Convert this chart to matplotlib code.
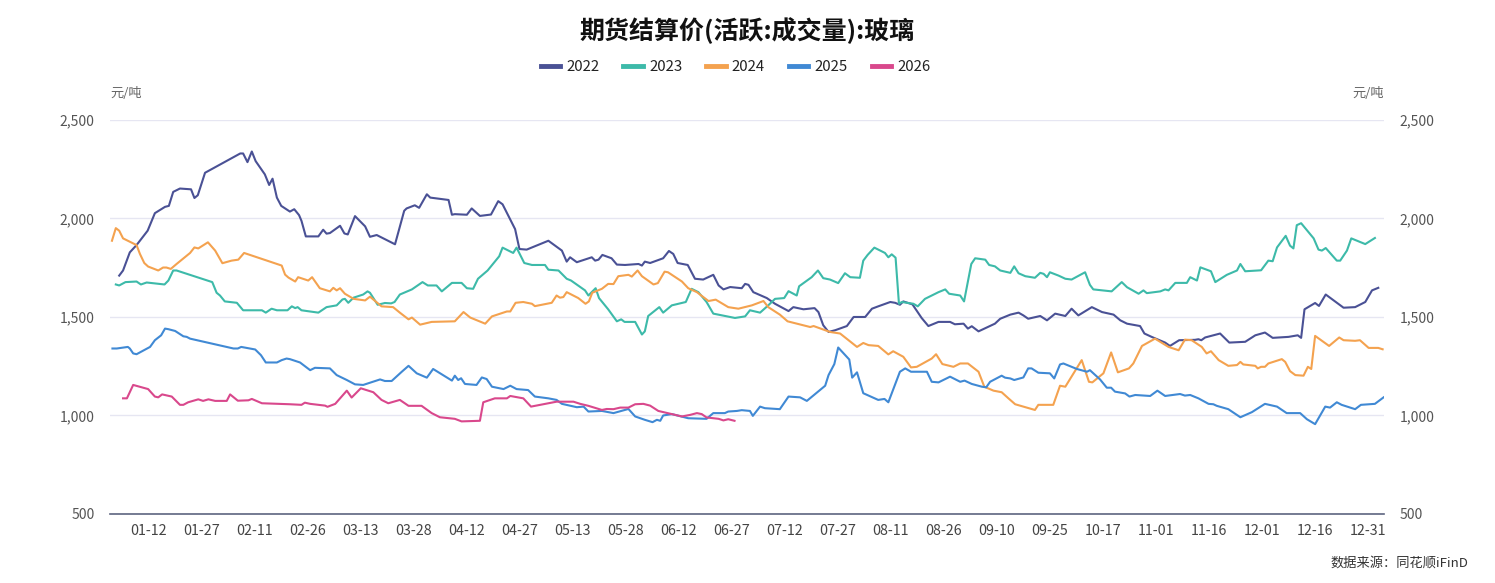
import matplotlib.pyplot as plt

plt.rcParams['font.family'] = ['Noto Sans CJK SC', 'DejaVu Sans']

# x = trading-day position on the shared category axis, y = settlement price (元/吨)
x_2022 = [1.5, 2.3, 3.7, 5.1, 7.4, 8.9, 11.0, 11.8, 12.7, 14.1, 16.4, 17.1, 17.8, 19.3,
          26.6, 27.2, 28.1, 29.0, 29.8, 31.7, 32.6, 33.3, 34.2, 35.1, 36.9, 37.8, 38.8,
          39.3, 40.2, 42.8, 43.8, 44.5, 45.2, 47.3, 48.2, 48.9, 50.4, 52.5, 53.5, 54.9,
          58.7, 60.6, 61.1, 62.8, 63.7, 65.3, 66.0, 69.8, 70.5, 71.1, 73.6, 74.6, 76.3,
          78.6, 80.1, 81.0, 83.6, 84.5, 86.0, 90.5, 93.3, 94.3, 95.0, 96.4, 99.5, 100.2,
          100.9, 101.7, 103.6, 104.7, 106.4, 109.2, 109.9, 110.5, 111.6, 114.3, 115.5,
          116.4, 117.3, 119.4, 120.9, 122.6, 124.7, 125.8, 126.8, 128.2, 130.6, 131.3,
          132.0, 133.0, 135.8, 137.5, 140.3, 141.3, 143.4, 145.7, 146.5, 147.5, 148.6,
          150.0, 152.4, 153.8, 156.2, 157.6, 158.9, 161.4, 162.4, 163.4, 164.1, 166.0,
          167.9, 169.3, 171.4, 173.8, 174.8, 176.6, 177.5, 178.3, 179.7, 183.1, 184.2,
          186.3, 188.0, 189.0, 190.0, 192.5, 193.9, 195.6, 197.7, 199.0, 200.4, 203.2,
          205.3, 207.7, 209.1, 210.5, 213.2, 214.1, 215.6, 218.4, 219.4, 221.3, 224.6,
          225.3, 225.9, 226.7, 229.8, 231.7, 235.0, 237.1, 239.1, 240.7, 244.0, 245.9,
          246.6, 247.3, 249.5, 250.3, 251.7, 255.4, 257.8, 259.9, 261.3, 262.6]
v_2022 = [1710, 1736, 1828, 1865, 1938, 2027, 2059, 2064, 2135, 2152, 2148, 2104, 2118, 2232,
          2330, 2330, 2286, 2340, 2291, 2224, 2170, 2202, 2106, 2064, 2035, 2047, 2017,
          1988, 1909, 1909, 1943, 1923, 1926, 1963, 1924, 1919, 2012, 1960, 1907, 1916,
          1869, 2039, 2051, 2067, 2054, 2123, 2106, 2094, 2019, 2022, 2019, 2051, 2013,
          2020, 2088, 2072, 1946, 1845, 1842, 1887, 1837, 1781, 1803, 1778, 1803, 1786,
          1791, 1815, 1798, 1766, 1764, 1769, 1761, 1781, 1774, 1798, 1835,
          1820, 1774, 1764, 1694, 1690, 1714, 1660, 1640, 1652, 1646, 1668,
          1663, 1626, 1596, 1567, 1530, 1550, 1539, 1545, 1525, 1458, 1424,
          1433, 1454, 1500, 1500, 1542, 1554, 1576, 1572, 1562, 1579, 1564,
          1495, 1454, 1475, 1475, 1463, 1466, 1441, 1453, 1427, 1466, 1491,
          1512, 1522, 1508, 1491, 1505, 1483, 1517, 1505, 1542, 1508, 1550,
          1525, 1512, 1483, 1466, 1454, 1416, 1399, 1370, 1353, 1382, 1384,
          1387, 1382, 1396, 1416, 1370, 1374, 1407, 1421, 1394, 1399, 1407,
          1394, 1539, 1571, 1556, 1614, 1547, 1550, 1576, 1635, 1648]

x_2023 = [0.8, 1.5, 2.8, 5.1, 6.0, 7.2, 10.9, 11.7, 12.7, 13.4, 20.8, 21.7, 22.4, 23.4,
          25.9, 27.2, 31.1, 31.9, 33.1, 34.2, 36.4, 37.3, 38.0, 38.5, 39.3, 42.8, 44.5,
          46.6, 47.8, 48.3, 49.0, 50.1, 52.1, 53.0, 53.5, 55.1, 56.6, 57.9, 58.6, 59.7,
          62.2, 64.4, 65.5, 67.3, 68.4, 70.5, 72.5, 73.6, 74.9, 75.9, 77.9, 80.3, 81.0,
          83.2, 83.9, 85.5, 87.1, 89.8, 90.5, 92.6, 94.3, 95.2, 98.1, 98.8, 100.3, 101.0,
          102.9, 104.7, 105.6, 106.3, 108.5, 109.9, 110.5, 111.2, 113.5, 114.3, 116.1,
          117.5, 119.0, 120.2, 121.6, 123.3, 124.7, 129.2, 131.3, 132.3, 134.4, 136.1,
          137.5, 139.4, 140.3, 142.0, 142.5, 145.1, 146.4, 147.5, 148.9, 150.6, 152.0,
          153.1, 155.1, 155.8, 156.7, 158.1, 160.3, 161.0, 161.7, 162.5, 163.2, 163.8,
          166.2, 167.1, 168.6, 171.4, 172.8, 173.6, 175.9, 176.7, 178.2, 179.0, 181.1,
          181.9, 183.1, 184.2, 186.3, 187.1, 188.0, 189.4, 191.4, 192.5, 193.2, 193.9,
          194.5, 196.3, 197.7, 199.0, 201.8, 202.8, 203.5, 207.3, 209.4, 210.5, 212.9,
          213.9, 214.6, 217.4, 218.4, 219.1, 220.5, 222.9, 223.6, 225.0, 225.7, 227.9,
          228.8, 231.2, 233.3, 234.0, 235.0, 238.3, 239.8, 240.7, 241.6, 243.4, 244.3,
          245.0, 245.7, 246.6, 249.2, 250.2, 250.9, 251.7, 254.0, 254.7, 256.1, 257.0,
          259.9, 261.9]
v_2023 = [1665, 1660, 1677, 1680, 1665, 1675, 1665, 1685, 1736, 1736, 1677, 1623, 1609, 1579,
          1572, 1534, 1534, 1522, 1542, 1534, 1534, 1554, 1545, 1550, 1534, 1522, 1550,
          1559, 1589, 1592, 1572, 1598, 1614, 1630, 1623, 1562, 1571, 1569, 1576, 1614,
          1640, 1677, 1660, 1660, 1630, 1673, 1673, 1646, 1643, 1694, 1736, 1808, 1852,
          1825, 1852, 1774, 1764, 1764, 1740, 1736, 1694, 1685, 1635, 1609, 1646, 1596,
          1539, 1478, 1488, 1475, 1475, 1411, 1427, 1505, 1550, 1522, 1559,
          1567, 1576, 1643, 1626, 1576, 1517, 1495, 1503, 1534, 1522, 1559,
          1592, 1596, 1631, 1609, 1656, 1702, 1736, 1697, 1690, 1672, 1722,
          1702, 1699, 1786, 1815, 1852, 1825, 1803, 1818, 1801, 1567, 1576,
          1567, 1554, 1592, 1626, 1640, 1618, 1609, 1579, 1769, 1798, 1791,
          1764, 1757, 1736, 1724, 1757, 1722, 1707, 1699, 1724, 1719, 1702,
          1727, 1710, 1694, 1690, 1727, 1663, 1640, 1630, 1677, 1651, 1618,
          1635, 1621, 1630, 1640, 1635, 1673, 1673, 1702, 1685, 1752, 1732,
          1677, 1714, 1736, 1769, 1732, 1737, 1786, 1783, 1853, 1912, 1862,
          1848, 1966, 1976, 1899, 1842, 1837, 1850, 1786, 1786, 1837, 1899,
          1870, 1901]

x_2024 = [0.0, 0.8, 1.5, 2.3, 5.1, 5.8, 6.7, 7.5, 9.6, 10.6, 11.3, 12.2, 13.4, 16.2, 17.1,
          17.9, 19.9, 21.4, 22.9, 24.8, 26.2, 27.4, 35.2, 35.9, 36.6, 38.0, 38.6, 40.7,
          41.5, 43.1, 45.2, 45.9, 46.6, 47.3, 48.3, 50.1, 52.5, 53.5, 55.9, 58.3, 59.7,
          61.5, 62.2, 63.9, 66.3, 71.1, 72.9, 74.3, 77.4, 78.8, 81.9, 82.6, 83.7, 85.3,
          87.1, 87.7, 91.2, 92.2, 92.9, 93.6, 94.3, 96.7, 98.2, 98.9, 99.6, 101.6, 102.9,
          104.0, 105.0, 107.1, 107.8, 109.0, 109.9, 111.6, 112.3, 113.2, 114.6, 115.3,
          118.2, 119.5, 121.3, 123.7, 125.2, 127.8, 129.9, 132.7, 135.1, 136.1, 138.5,
          140.1, 144.8, 145.5, 148.9, 151.0, 154.5, 155.8, 156.9, 158.9, 161.0, 162.0,
          164.1, 165.7, 166.9, 170.0, 170.9, 172.2, 174.5, 175.9, 177.5, 179.7, 180.9,
          182.8, 184.5, 185.9, 187.3, 191.4, 192.1, 195.2, 196.6, 197.7, 201.1, 202.6,
          203.3, 205.6, 207.2, 208.6, 210.9, 211.8, 213.6, 216.3, 219.1, 221.2, 222.5,
          223.9, 226.0, 227.0, 227.9, 229.5, 231.5, 233.3, 234.0, 234.6, 237.1, 237.6,
          238.3, 239.1, 239.8, 242.6, 243.3, 244.3, 245.4, 247.1, 248.0, 248.7, 249.5,
          252.4, 254.5, 255.4, 257.8, 258.8, 260.6, 262.6, 263.5]
v_2024 = [1887, 1951, 1938, 1899, 1865, 1820, 1774, 1756, 1736, 1751, 1751, 1744, 1769, 1825, 1853,
          1848, 1879, 1837, 1773, 1786, 1791, 1825, 1761, 1715, 1700, 1680, 1702, 1685,
          1702, 1646, 1630, 1648, 1635, 1646, 1618, 1592, 1584, 1603, 1554, 1550, 1522,
          1488, 1497, 1461, 1475, 1478, 1525, 1497, 1466, 1503, 1528, 1528, 1572, 1576,
          1567, 1555, 1572, 1609, 1598, 1601, 1626, 1596, 1567, 1579, 1623, 1643, 1668,
          1667, 1707, 1714, 1705, 1736, 1707, 1677, 1665, 1672, 1730, 1727,
          1680, 1646, 1626, 1581, 1588, 1550, 1542, 1559, 1581, 1550, 1512,
          1478, 1449, 1454, 1424, 1416, 1348, 1368, 1357, 1353, 1310, 1326,
          1298, 1244, 1247, 1289, 1311, 1261, 1247, 1264, 1264, 1222, 1146,
          1126, 1118, 1087, 1057, 1028, 1054, 1054, 1151, 1146, 1281, 1171,
          1168, 1214, 1320, 1219, 1239, 1264, 1353, 1390, 1348, 1331, 1385,
          1382, 1348, 1315, 1326, 1281, 1252, 1256, 1272, 1259, 1252, 1239,
          1247, 1247, 1264, 1286, 1272, 1225, 1205, 1202, 1247, 1236, 1404,
          1353, 1396, 1382, 1379, 1382, 1343, 1343, 1336]

x_2025 = [0.1, 1.0, 3.3, 3.7, 4.4, 5.1, 7.9, 8.9, 10.2, 11.0, 11.7, 13.1, 14.8, 15.5, 16.2,
          25.2, 26.1, 26.8, 29.7, 30.9, 31.9, 34.2, 35.2, 36.2, 36.9, 39.0, 41.1, 42.1,
          45.2, 46.6, 48.7, 50.4, 52.1, 55.6, 56.6, 58.0, 60.1, 61.5, 63.2, 65.3, 66.6,
          70.5, 71.1, 71.8, 72.4, 73.2, 75.6, 76.7, 77.7, 78.8, 81.2, 82.6, 83.9, 86.3,
          87.7, 90.5, 92.2, 93.3, 96.4, 97.8, 98.8, 101.6, 104.0, 107.1, 108.5, 110.5,
          112.1, 113.0, 113.7, 114.3, 116.1, 119.5, 123.3, 124.7, 127.1, 127.8, 129.6,
          130.6, 132.3, 132.9, 134.4, 135.4, 138.5, 140.3, 142.7, 144.1, 147.9, 148.6,
          149.8, 150.6, 152.9, 153.5, 154.5, 155.8, 156.9, 158.9, 160.2, 161.0, 163.4,
          164.5, 165.7, 169.0, 170.0, 171.4, 173.8, 175.9, 176.8, 178.3, 180.4, 181.3,
          182.1, 184.5, 185.2, 186.3, 187.1, 189.0, 190.0, 190.7, 192.1, 194.5, 195.4,
          196.6, 197.3, 200.1, 202.2, 202.8, 204.9, 206.3, 207.2, 208.0, 210.1, 211.0,
          212.2, 215.3, 216.8, 218.4, 221.5, 222.5, 223.6, 225.3, 227.4, 228.4, 229.1,
          231.5, 234.0, 236.4, 239.1, 241.6, 243.6, 246.4, 247.8, 249.5, 251.6, 252.6,
          254.0, 255.0, 257.8, 259.0, 261.9, 263.7]
v_2025 = [1340, 1340, 1348, 1340, 1315, 1311, 1348, 1382, 1407, 1441, 1438, 1429, 1402, 1399, 1390,
          1340, 1340, 1348, 1335, 1306, 1269, 1269, 1281, 1289, 1286, 1269, 1230, 1242,
          1239, 1205, 1180, 1158, 1155, 1183, 1175, 1175, 1222, 1252, 1214, 1192, 1236,
          1177, 1202, 1180, 1189, 1160, 1155, 1193, 1185, 1146, 1134, 1151, 1134, 1129,
          1096, 1087, 1079, 1059, 1042, 1045, 1020, 1023, 1012, 1033, 995, 978,
          966, 978, 973, 1000, 1007, 986, 983, 1012, 1012, 1020, 1023,
          1027, 1023, 998, 1045, 1037, 1032, 1096, 1092, 1074, 1151, 1205,
          1261, 1345, 1284, 1192, 1219, 1113, 1101, 1079, 1084, 1067, 1222,
          1239, 1222, 1222, 1171, 1168, 1197, 1171, 1177, 1160, 1146, 1143,
          1171, 1202, 1192, 1188, 1180, 1193, 1239, 1239, 1217, 1214, 1188,
          1259, 1264, 1236, 1222, 1230, 1183, 1141, 1141, 1121, 1112, 1096,
          1104, 1099, 1126, 1099, 1109, 1101, 1104, 1087, 1059, 1057, 1049,
          1032, 991, 1017, 1059, 1045, 1012, 1012, 981, 956, 1045, 1040,
          1067, 1054, 1032, 1054, 1059, 1092]

x_2026 = [2.3, 3.1, 4.4, 7.5, 8.9, 9.6, 10.4, 12.4, 14.1, 14.8, 15.8, 17.9, 18.9, 20.0, 21.4,
          23.8, 24.5, 26.1, 28.3, 29.0, 31.1, 36.9, 39.3, 40.0, 41.1, 44.2, 44.7, 46.3,
          48.7, 49.7, 51.6, 54.2, 55.9, 57.3, 59.7, 61.5, 64.2, 66.3, 68.0, 71.1, 72.5,
          76.3, 77.0, 79.4, 81.9, 82.6, 85.3, 86.9, 92.2, 95.7, 97.1, 98.8, 101.6, 102.6,
          104.0, 105.4, 107.1, 108.5, 110.2, 111.6, 113.3, 116.1, 118.2, 119.9, 121.3,
          122.3, 123.3, 125.8, 126.8, 127.8, 129.1]
v_2026 = [1087, 1087, 1155, 1134, 1096, 1092, 1107, 1096, 1054, 1054, 1067, 1082, 1074, 1082, 1074,
          1074, 1107, 1075, 1077, 1084, 1062, 1057, 1054, 1065, 1059, 1050, 1044, 1059,
          1126, 1091, 1138, 1118, 1079, 1062, 1079, 1049, 1049, 1012, 991, 983, 970,
          973, 1067, 1087, 1087, 1099, 1087, 1045, 1070, 1070, 1059, 1049, 1028, 1033,
          1032, 1040, 1040, 1057, 1059, 1050, 1023, 1007, 995, 1003, 1012,
          1007, 990, 983, 975, 981, 973]

years = ['2022', '2023', '2024', '2025', '2026']
colors = ['#4a5195', '#3dbaa9', '#f4a24f', '#4089d4', '#d9488c']

tick_pos = [7.5 + 11 * i for i in range(24)]
tick_labels = ['01-12', '01-27', '02-11', '02-26', '03-13', '03-28', '04-12', '04-27',
               '05-13', '05-28', '06-12', '06-27', '07-12', '07-27', '08-11', '08-26',
               '09-10', '09-25', '10-17', '11-01', '11-16', '12-01', '12-16', '12-31']
y_ticks = [500, 1000, 1500, 2000, 2500]

fig = plt.figure(figsize=(14.95, 5.83), dpi=100)
ax = fig.add_axes([0.0736, 0.1184, 0.8522, 0.6758])

series = [(x_2022, v_2022), (x_2023, v_2023), (x_2024, v_2024), (x_2025, v_2025), (x_2026, v_2026)]
for (xs, vs), yr, c in zip(series, years, colors):
    ax.plot(xs, vs, color=c, lw=1.5, label=yr, solid_joinstyle='round')

ax.set_xlim(-0.4, 263.8)
ax.set_ylim(500, 2500)
ax.set_yticks(y_ticks)
ax.set_yticklabels([f'{v:,}' for v in y_ticks])
ax.set_xticks(tick_pos)
ax.set_xticklabels(tick_labels)
ax.grid(axis='y', color='#e6e6f2', lw=1)
ax.set_axisbelow(True)
for s in ['top', 'left', 'right']:
    ax.spines[s].set_visible(False)
ax.spines['bottom'].set_color('#5d6580')
ax.spines['bottom'].set_linewidth(1.2)
ax.tick_params(axis='y', length=0, labelsize=10, labelcolor='#555555', pad=11,
               labelright=True)
ax.tick_params(axis='x', length=0, labelsize=10.3, labelcolor='#444444', pad=7)

fig.text(0.5, 0.947, '期货结算价(活跃:成交量):玻璃', ha='center', va='center',
         fontsize=18, fontweight='bold', color='#111111')
leg = ax.legend(loc='center', bbox_to_anchor=(0.492, 0.885), bbox_transform=fig.transFigure,
                ncol=5, frameon=False, fontsize=10.8, handlelength=1.3, handletextpad=0.4,
                columnspacing=1.6)
for h in leg.get_lines():
    h.set_linewidth(3.5)
for t in leg.get_texts():
    t.set_color('#222222')

fig.text(0.0736, 0.84, '元/吨', ha='left', va='center', fontsize=9.5, color='#666666')
fig.text(0.9258, 0.84, '元/吨', ha='right', va='center', fontsize=9.5, color='#666666')
fig.text(0.982, 0.034, '数据来源：同花顺iFinD', ha='right', va='center', fontsize=9.5,
         color='#333333')

fig.savefig('out.png', dpi=100)
